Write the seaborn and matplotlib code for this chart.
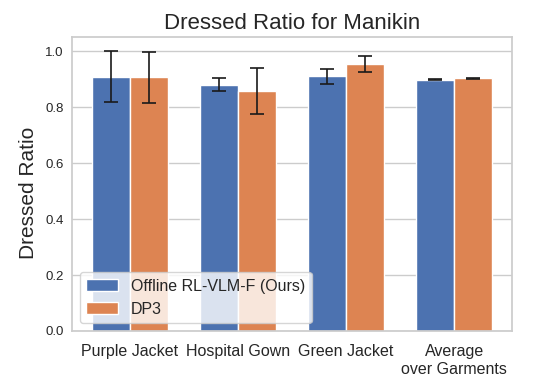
import pandas as pd
import matplotlib
matplotlib.use('Agg')
import matplotlib.pyplot as plt
import seaborn as sns

# Data
garments = ['Purple Jacket', 'Hospital Gown', 'Green Jacket', 'Average\nover Garments']
methods = ['Offline RL-VLM-F (Ours)', 'DP3']
ours_mean = [0.908, 0.880, 0.910, 0.898]
ours_err = [0.091, 0.022, 0.026, 0.002]
dp3_mean = [0.906, 0.858, 0.953, 0.903]
dp3_err = [0.092, 0.082, 0.029, 0.002]

df = pd.DataFrame({
    'Garment': garments * 2,
    'Method': [methods[0]] * 4 + [methods[1]] * 4,
    'Ratio': ours_mean + dp3_mean,
    'Err': ours_err + dp3_err,
})

sns.set_theme(style='whitegrid', palette='deep')
plt.rcParams['font.family'] = ['Liberation Sans', 'DejaVu Sans']

fig, ax = plt.subplots(figsize=(5.53, 3.86), dpi=100)
fig.subplots_adjust(left=0.130, right=0.926, bottom=0.1425, top=0.904)

sns.barplot(data=df, x='Garment', y='Ratio', hue='Method', width=0.7,
            saturation=1, errorbar=None, ax=ax, zorder=2)

# error bars on top of each bar
bars = [p for p in ax.patches if p.get_height() > 0]
for patch, m, e in zip(bars, df['Ratio'], df['Err']):
    cx = patch.get_x() + patch.get_width() / 2
    ax.errorbar(cx, m, yerr=e, fmt='none', ecolor='#1a1a1a',
                elinewidth=1.2, capsize=5, capthick=1.2, zorder=3)

ax.set_ylim(0, 1.05)
ax.set_yticks([0.0, 0.2, 0.4, 0.6, 0.8, 1.0])
ax.tick_params(axis='y', labelsize=9.5, pad=0)
ax.tick_params(axis='x', labelsize=11.5)
ax.set_xlabel('')
ax.set_ylabel('Dressed Ratio', fontsize=15, labelpad=5)
ax.yaxis.label.set_y(0.47)
ax.set_title('Dressed Ratio for Manikin', fontsize=16, pad=6)
ax.legend(loc='lower left', fontsize=11.5, title=None)

fig.savefig('out.png', dpi=100)
